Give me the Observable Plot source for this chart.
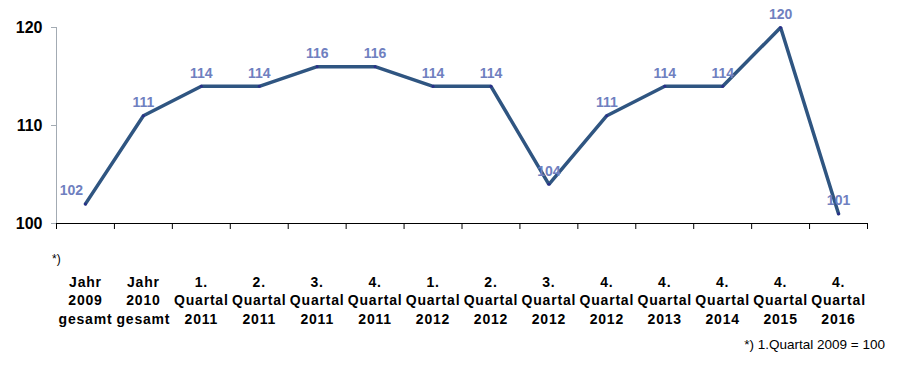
<!DOCTYPE html>
<html><head><meta charset="utf-8">
<script src="https://cdn.jsdelivr.net/npm/d3@7"></script>
<script src="https://cdn.jsdelivr.net/npm/@observablehq/plot@0.6"></script>
<style>
body{margin:0;background:#fff;font-family:Arial,"Liberation Sans",sans-serif}
#wrap{position:relative;width:904px;height:370px;overflow:hidden}
.note{position:absolute;color:#000;white-space:nowrap;line-height:1}
g[aria-label="x-axis tick label"] text{letter-spacing:0.8px}
</style></head><body><div id="wrap"></div>
<script>
const categories = [
  "Jahr\n2009\ngesamt", "Jahr\n2010\ngesamt",
  "1.\nQuartal\n2011", "2.\nQuartal\n2011", "3.\nQuartal\n2011", "4.\nQuartal\n2011",
  "1.\nQuartal\n2012", "2.\nQuartal\n2012", "3.\nQuartal\n2012", "4.\nQuartal\n2012",
  "4.\nQuartal\n2013", "4.\nQuartal\n2014", "4.\nQuartal\n2015", "4.\nQuartal\n2016"
];
const values = [102, 111, 114, 114, 116, 116, 114, 114, 104, 111, 114, 114, 120, 101];
const yTicks = [100, 110, 120];
const yDomain = [100, 120];
const footnoteMark = "*)";
const footnote = "*) 1.Quartal 2009 = 100";

const data = categories.map((c, i) => ({i, x: i + 0.5, c, v: values[i]}));
const boundaries = d3.range(categories.length + 1);
const labelStyle = {x: "x", y: "v", text: d => String(d.v), fill: "#6f80c0", fontSize: 14, fontWeight: "bold"};

const chart = Plot.plot({
  width: 904, height: 370,
  marginLeft: 56, marginRight: 37, marginTop: 27, marginBottom: 147,
  x: {domain: [0, categories.length], axis: null, label: null},
  y: {domain: yDomain, axis: null, label: null},
  style: {fontFamily: "Arial, 'Liberation Sans', sans-serif", background: "#fff", overflow: "visible"},
  marks: [
    Plot.ruleX([0], {stroke: "#a3abb3", strokeWidth: 1}),
    Plot.axisY({ticks: yTicks, label: null, tickSize: 5, stroke: "#a3abb3", tickPadding: 9, fontSize: 16, fontWeight: "bold", fill: "#000", strokeOpacity: 1}),
    Plot.ruleY([yDomain[0]], {stroke: "#000", strokeWidth: 1}),
    Plot.axisX({ticks: boundaries, label: null, tickSize: 6, tickFormat: () => "", stroke: "#000", strokeOpacity: 1}),
    Plot.axisX({ticks: data.map(d => d.x), label: null, tickSize: 0, tickPadding: 50,
      tickFormat: t => categories[Math.floor(t)], fontSize: 14, fontWeight: "bold", lineHeight: 1.32, fill: "#000"}),
    Plot.line(data, {x: "x", y: "v", stroke: "#2f5581", strokeWidth: 3.5, strokeLinejoin: "miter"}),
    Plot.dot(data, {x: "x", y: "v", r: 1.5, fill: "#2a2f8a"}),
    Plot.text(data, {...labelStyle, filter: d => d.i > 0, dy: -13}),
    Plot.text(data, {...labelStyle, filter: d => d.i === 0, dy: -13, dx: -14})
  ]
});
const wrap = document.getElementById("wrap");
wrap.appendChild(chart);
const m = document.createElement("div");
m.className = "note"; m.textContent = footnoteMark;
m.style.left = "52px"; m.style.top = "253px"; m.style.fontSize = "12px";
wrap.appendChild(m);
const f = document.createElement("div");
f.className = "note"; f.textContent = footnote;
f.style.right = "19px"; f.style.top = "338px"; f.style.fontSize = "13.5px";
wrap.appendChild(f);
</script></body></html>
